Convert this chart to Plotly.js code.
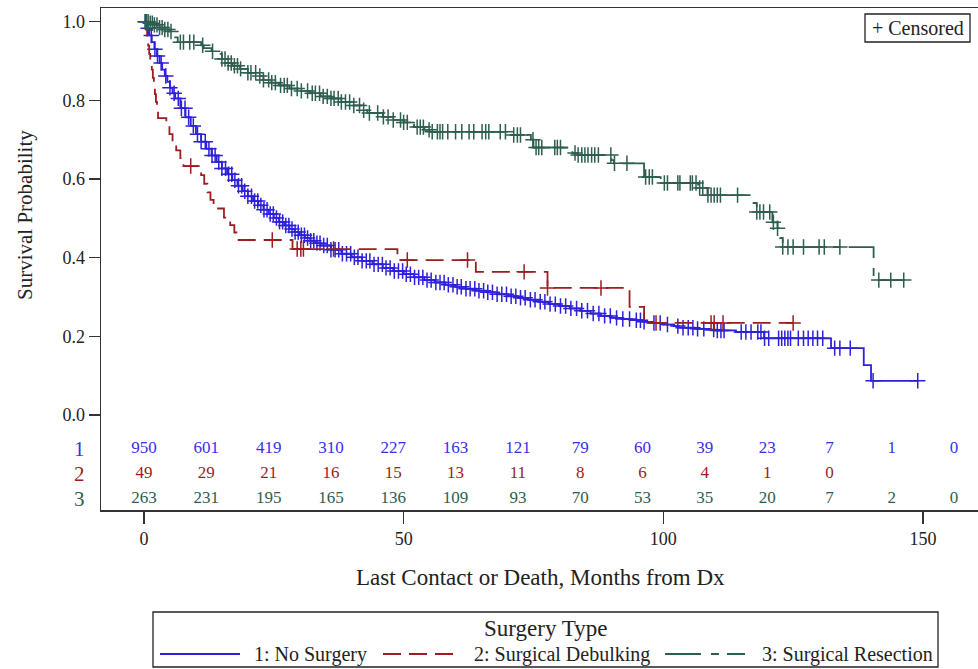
<!DOCTYPE html>
<html>
<head>
<meta charset="utf-8">
<script src="https://cdn.plot.ly/plotly-3.0.1.min.js"></script>
<style>html,body{margin:0;padding:0;background:#fff}#chart{width:978px;height:669px}</style>
</head>
<body>
<div id="chart"></div>
<script>
// ---------- DATA ----------
const groupNames = ['1: No Surgery', '2: Surgical Debulking', '3: Surgical Resection'];
const groupIds = ['1', '2', '3'];

// Kaplan-Meier step points (months, survival probability)
const noSurgTime = [0,0.5,1,1.5,2,2.5,3,3.5,4,4.5,5,5.5,6,7,8,9,10,11,12,13,14,15,16,17,18,19,20,21,22,23,24,25,26,27,28,29,30,31,32,33,34,36,38,40,42,44,46,48,50,52,54,56,58,60,62,64,66,68,70,72,74,76,78,80,82,84,86,88,90,92,94,96,98,100,102,103,106,108,110,114,119.4,132.3,138.6,140,149];
const noSurgSurv = [1.0,0.983,0.965,0.948,0.93,0.913,0.895,0.878,0.862,0.847,0.832,0.818,0.805,0.78,0.757,0.735,0.714,0.695,0.677,0.66,0.643,0.627,0.612,0.597,0.583,0.569,0.556,0.544,0.533,0.522,0.511,0.501,0.491,0.482,0.473,0.465,0.457,0.45,0.443,0.437,0.431,0.42,0.41,0.401,0.392,0.383,0.374,0.366,0.358,0.35,0.343,0.337,0.331,0.326,0.321,0.316,0.312,0.307,0.302,0.298,0.293,0.288,0.282,0.277,0.271,0.265,0.258,0.252,0.247,0.244,0.241,0.237,0.234,0.23,0.226,0.222,0.219,0.217,0.215,0.211,0.195,0.17,0.127,0.087,0.087];
const noSurgCensor = [0.3,0.8,1.4,2.1,2.6,3.3,4.2,5.0,5.8,6.6,7.2,7.9,8.6,9.5,10.3,11.0,11.8,12.5,13.1,13.7,14.4,15.0,15.7,16.3,16.9,17.5,18.2,18.8,19.4,20.0,20.7,21.3,21.9,22.5,23.1,23.7,24.3,24.9,25.5,26.1,26.7,27.3,27.9,28.5,29.1,29.7,30.3,30.9,31.5,32.1,32.7,33.3,33.9,34.6,35.3,36.0,36.8,37.5,38.2,39.0,39.8,40.5,41.2,42.0,42.8,43.5,44.3,45.1,45.9,46.6,47.4,48.2,49.0,49.8,50.5,51.3,52.1,52.9,53.7,54.5,55.3,56.2,57.0,57.8,58.6,59.5,60.3,61.1,62.0,62.8,63.7,64.5,65.4,66.2,67.1,68.0,68.9,69.8,70.7,71.6,72.5,73.4,74.4,75.3,76.3,77.2,78.2,79.2,80.2,81.2,82.2,83.3,84.3,85.4,86.5,87.6,88.7,89.8,91.0,92.2,93.5,94.8,95.6,96.3,98.2,99.4,100.8,102.8,103.8,104.8,105.7,106.6,107.8,109.7,110.4,111.1,111.7,115,115.9,116.9,118.2,118.8,119.5,120.3,122.2,122.8,123.4,124.0,124.5,126,127,127.9,128.8,129.7,130.7,133,134,136,140.4,149];

const debulkTime = [0,0.4,0.6,0.8,1.0,1.2,1.5,1.7,1.9,2.1,2.3,2.5,2.7,4.3,4.9,5.5,6.2,7.0,7.6,11.0,11.6,12.2,12.8,13.4,15.4,16.6,17.4,17.8,28.6,48.8,63.9,77.7,93.5,96.3,125];
const debulkSurv = [1.0,0.98,0.959,0.939,0.918,0.898,0.878,0.857,0.837,0.816,0.796,0.776,0.755,0.735,0.714,0.694,0.673,0.653,0.633,0.61,0.588,0.566,0.547,0.525,0.502,0.483,0.464,0.445,0.422,0.394,0.364,0.323,0.275,0.234,0.234];
const debulkCensor = [9,24.7,29.5,30.2,30.7,36.5,50.7,62.3,73.2,77.7,88,98.6,109.2,109.8,111.5,125];

const resectTime = [0,1,2,3,4,5,6,6.5,11,11.5,13,13.5,15,16,17,18.5,20,22,23,24.5,26,28,30,32,34,36,38,40,42,43,46,48,50,52,54,55,70,74.5,75,82.5,83.5,90,90.5,96.3,99.5,106.7,108.5,117,118,121,122,122.5,123,140.5,146.5];
const resectSurv = [1.0,0.996,0.992,0.985,0.98,0.975,0.96,0.948,0.94,0.933,0.925,0.918,0.905,0.895,0.888,0.88,0.87,0.862,0.852,0.845,0.838,0.83,0.824,0.818,0.81,0.805,0.796,0.787,0.775,0.768,0.758,0.75,0.744,0.732,0.725,0.72,0.712,0.70,0.68,0.666,0.661,0.648,0.64,0.605,0.59,0.577,0.559,0.539,0.516,0.49,0.475,0.45,0.427,0.343,0.343];
const resectCensor = [0.2,0.5,0.8,1.2,1.6,2,2.5,3,3.5,4,4.6,5.2,7,7.6,8.8,9.6,11.3,13.2,15,15.6,16.2,16.8,17.4,18,18.6,20,20.6,21.5,22.3,23,24,24.6,25.3,26.3,27,27.6,28.4,29.5,30.3,31.5,32.4,33,33.8,34.5,35.3,36,36.6,37.4,38,38.8,39.6,40.4,41.5,42.3,43.4,45,46.1,47,48,49.4,50,50.7,52.6,53.2,53.8,54.9,55.5,56.5,57,57.5,58.5,60,61.2,62.6,63.5,65.1,65.8,66.4,68.6,69.6,71.2,71.9,72.5,74.9,75.5,76,76.6,79.1,79.6,80.2,83,83.6,84.3,84.9,85.5,86.2,86.8,87.5,89.9,90.6,93,96.6,97.3,97.9,100.2,100.8,102.8,103.2,105.2,105.6,106.3,107,107.6,108.6,109.2,109.8,110.4,111,114.3,118,118.6,119.3,120.5,121.2,122,123,124,125,127,130,131,134,141.5,143.8,146.3];

// Number at risk
const riskMonths = [0,12,24,36,48,60,72,84,96,108,120,132,144,156];
const atRiskNoSurg = [950,601,419,310,227,163,121,79,60,39,23,7,1,0];
const atRiskDebulk = [49,29,21,16,15,13,11,8,6,4,1,0];
const atRiskResect = [263,231,195,165,136,109,93,70,53,35,20,7,2,0];

const xTicks = [0,50,100,150];
const yTicks = [0,0.2,0.4,0.6,0.8,1.0];

// ---------- STYLE ----------
const FONT = 'Liberation Serif, Times New Roman, serif';
const colors = ['#2E20D8', '#9B1D22', '#2E5E50'];
const textColors = ['#3A2EE6', '#9B1D22', '#2E5E50'];
const dashes = ['solid', '18px,8px', '36px,10px,8px,8px'];
const rowLevels = [-0.0864, -0.150, -0.2136];

function survAt(T, S, c) {
  let v = S[0];
  for (let i = 0; i < T.length; i++) { if (T[i] <= c) v = S[i]; else break; }
  return v;
}

const groups = [
  {T: noSurgTime, S: noSurgSurv, C: noSurgCensor, R: atRiskNoSurg},
  {T: debulkTime, S: debulkSurv, C: debulkCensor, R: atRiskDebulk},
  {T: resectTime, S: resectSurv, C: resectCensor, R: atRiskResect}
];

const traces = [];
groups.forEach((g, i) => {
  traces.push({
    type: 'scatter', mode: 'lines', name: groupNames[i],
    x: g.T, y: g.S,
    line: {shape: 'hv', color: colors[i], width: 1.8, dash: dashes[i]},
    hoverinfo: 'skip', showlegend: false
  });
  traces.push({
    type: 'scatter', mode: 'markers', name: groupNames[i] + ' censored',
    x: g.C, y: g.C.map(c => survAt(g.T, g.S, c)),
    marker: {symbol: 'cross-thin', size: 11, color: colors[i], line: {width: 1.5, color: colors[i]}},
    hoverinfo: 'skip', showlegend: false
  });
  traces.push({
    type: 'scatter', mode: 'text',
    x: riskMonths.slice(0, g.R.length), y: g.R.map(() => rowLevels[i]),
    text: g.R.map(String),
    textposition: 'middle center',
    textfont: {family: FONT, size: 17, color: textColors[i]},
    hoverinfo: 'skip', showlegend: false, cliponaxis: false
  });
});

// paper helpers (plot area: x 101..978 px, y 8..510 px)
const px = v => (v - 101) / 877;
const py = v => (510 - v) / 502;

const annotations = [
  {xref: 'paper', yref: 'paper', x: px(25), y: py(215), text: 'Survival Probability', textangle: -90,
   showarrow: false, font: {family: FONT, size: 21, color: '#222'}, xanchor: 'center', yanchor: 'middle'},
  {xref: 'paper', yref: 'paper', x: px(540), y: py(578), text: 'Last Contact or Death, Months from Dx',
   showarrow: false, font: {family: FONT, size: 23, color: '#222'}, xanchor: 'center', yanchor: 'middle'},
  {xref: 'paper', yref: 'paper', x: px(917.5), y: py(28), text: '+ Censored',
   showarrow: false, font: {family: FONT, size: 20, color: '#222'}, xanchor: 'center', yanchor: 'middle'},
  {xref: 'paper', yref: 'paper', x: px(545.5), y: py(628), text: 'Surgery Type',
   showarrow: false, font: {family: FONT, size: 23, color: '#222'}, xanchor: 'center', yanchor: 'middle'}
];
groupIds.forEach((id, i) => {
  annotations.push({xref: 'paper', yref: 'y', x: px(79), y: rowLevels[i], text: id, showarrow: false,
    font: {family: FONT, size: 21, color: textColors[i]}, xanchor: 'center', yanchor: 'middle'});
});
const legendItems = [
  {x0: 160, x1: 240, tx: 252},
  {x0: 383, x1: 456, tx: 472},
  {x0: 665, x1: 745, tx: 760}
];
const shapes = [
  {type: 'rect', xref: 'paper', yref: 'paper', x0: px(865), x1: px(970), y0: py(42), y1: py(14),
   line: {color: '#222', width: 1.3}},
  {type: 'rect', xref: 'paper', yref: 'paper', x0: px(153), x1: px(938), y0: py(667), y1: py(612),
   line: {color: '#222', width: 1.3}}
];
legendItems.forEach((it, i) => {
  shapes.push({type: 'line', xref: 'paper', yref: 'paper', x0: px(it.x0), x1: px(it.x1), y0: py(654), y1: py(654),
    line: {color: colors[i], width: 1.8, dash: dashes[i]}});
  annotations.push({xref: 'paper', yref: 'paper', x: px(it.tx), y: py(654), text: groupNames[i], showarrow: false,
    font: {family: FONT, size: 20, color: '#222'}, xanchor: 'left', yanchor: 'middle'});
});

const layout = {
  width: 978, height: 669,
  margin: {l: 101, r: 0, t: 8, b: 159, pad: 0},
  paper_bgcolor: '#ffffff', plot_bgcolor: '#ffffff',
  font: {family: FONT, color: '#222'},
  showlegend: false, hovermode: false,
  xaxis: {
    range: [-8.28, 160.6], tickvals: xTicks, ticktext: xTicks.map(String),
    ticks: 'outside', ticklen: 12, tickwidth: 1.5, tickcolor: '#333',
    showline: true, linecolor: '#333', linewidth: 1.5, mirror: true,
    showgrid: false, zeroline: false, tickfont: {family: FONT, size: 18, color: '#222'}
  },
  yaxis: {
    range: [-0.2415, 1.0348], tickvals: yTicks, ticktext: yTicks.map(v => v.toFixed(1)),
    ticks: 'outside', ticklen: 11, tickwidth: 1.5, tickcolor: '#333',
    showline: true, linecolor: '#333', linewidth: 1.5, mirror: false,
    showgrid: false, zeroline: false, tickfont: {family: FONT, size: 18, color: '#222'}
  },
  annotations: annotations,
  shapes: shapes
};

Plotly.newPlot('chart', traces, layout, {staticPlot: true, displayModeBar: false});
</script>
</body>
</html>
